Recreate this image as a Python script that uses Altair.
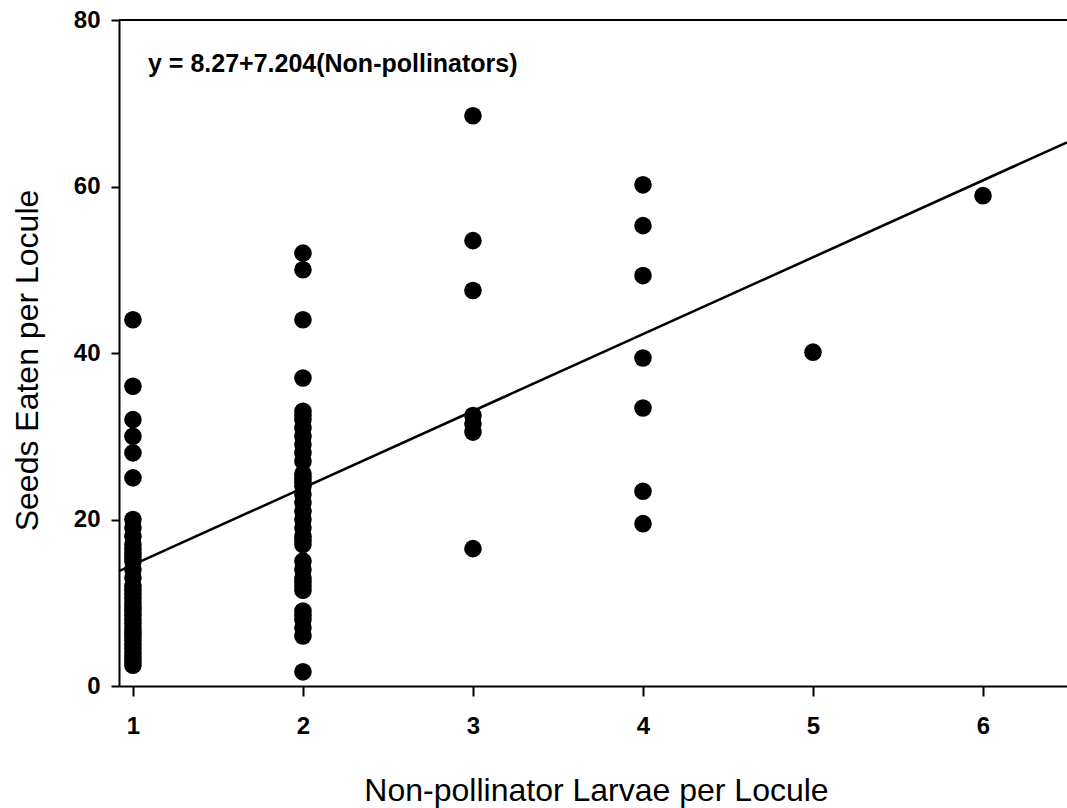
import altair as alt
import pandas as pd

# Non-pollinator larvae per locule (x) and seeds eaten per locule (y)
seeds_at_1 = [44, 36, 32, 30, 28, 25, 20, 19, 18, 17, 16.5, 16, 15.5, 15, 14, 13,
              12, 11.5, 11, 10.5, 10, 9.5, 9, 8.5, 8, 7.5, 7, 6.5, 6, 5.5, 5,
              4.5, 4, 3.5, 3, 2.5]
seeds_at_2 = [52, 50, 44, 37, 33, 32.5, 32, 31, 30, 29, 28, 27, 25.5, 25, 24.5,
              24, 23, 22, 21, 20, 19, 18, 17.5, 17, 15, 14, 13, 12.5, 12, 11.5,
              9, 8.5, 8, 7, 6, 1.7]
seeds_at_3 = [68.5, 53.5, 47.5, 32.5, 31.5, 30.5, 16.5]
seeds_at_4 = [60.2, 55.3, 49.3, 39.4, 33.4, 23.4, 19.5]
seeds_at_5 = [40.1]
seeds_at_6 = [58.9]

# fitted line as drawn in the figure (end points)
line_x = [0.918, 6.494]
line_y = [13.8, 65.3]

equation = "y = 8.27+7.204(Non-pollinators)"
x_title = "Non-pollinator Larvae per Locule"
y_title = "Seeds Eaten per Locule"
x_ticks = [1, 2, 3, 4, 5, 6]
y_ticks = [0, 20, 40, 60, 80]

rows = []
for xv, ys in zip([1, 2, 3, 4, 5, 6],
                  [seeds_at_1, seeds_at_2, seeds_at_3, seeds_at_4, seeds_at_5, seeds_at_6]):
    for yv in ys:
        rows.append({"x": xv, "y": yv})
pts = pd.DataFrame(rows)
line_df = pd.DataFrame({"x": line_x, "y": line_y})

FONT = "Liberation Sans"

x_enc = alt.X(
    "x:Q",
    scale=alt.Scale(domain=[0.918, 6.494], nice=False, zero=False),
    axis=alt.Axis(
        values=x_ticks, title=x_title, grid=False, tickSize=10, labelPadding=18,
        labelFont=FONT, labelFontSize=24, labelFontWeight="bold", labelColor="black",
        titleFont=FONT, titleFontSize=32, titleFontWeight="normal", titleColor="black",
        titleX=477, titleY=114, titleAlign="center", titleBaseline="alphabetic",
        domainColor="black", domainWidth=2, tickColor="black", tickWidth=2,
        labelFlush=False,
    ),
)
y_enc = alt.Y(
    "y:Q",
    scale=alt.Scale(domain=[0, 80], nice=False, zero=True),
    axis=alt.Axis(
        values=y_ticks, title=y_title, grid=False, tickSize=8, labelPadding=11,
        labelFont=FONT, labelFontSize=24, labelFontWeight="bold", labelColor="black",
        titleFont=FONT, titleFontSize=32, titleFontWeight="normal", titleColor="black",
        titleX=-82, titleY=340, titleAngle=270, titleAlign="center",
        titleBaseline="alphabetic",
        domainColor="black", domainWidth=2, tickColor="black", tickWidth=2,
        labelFlush=False,
    ),
)

points = alt.Chart(pts).mark_circle(size=310, color="black", opacity=1).encode(
    x=x_enc, y=y_enc
)
fit = alt.Chart(line_df).mark_line(color="black", strokeWidth=2.6).encode(
    x=x_enc, y=y_enc
)
top_border = alt.Chart(pd.DataFrame({"a": [0]})).mark_rule(
    color="black", strokeWidth=2
).encode(x=alt.value(0), x2=alt.value(948), y=alt.value(0))
label = alt.Chart(pd.DataFrame({"t": [equation]})).mark_text(
    align="left", baseline="alphabetic", font=FONT, fontSize=25,
    fontWeight="bold", color="black"
).encode(x=alt.value(29), y=alt.value(52), text="t:N")

chart = alt.layer(points, fit, top_border, label).properties(
    width=948, height=666,
    autosize=alt.AutoSizeParams(type="none"),
    padding={"left": 119, "top": 20, "right": 0, "bottom": 122},
    background="white",
).configure_view(stroke=None)

chart.save("out.html", embed_options={"renderer": "svg", "actions": False})
